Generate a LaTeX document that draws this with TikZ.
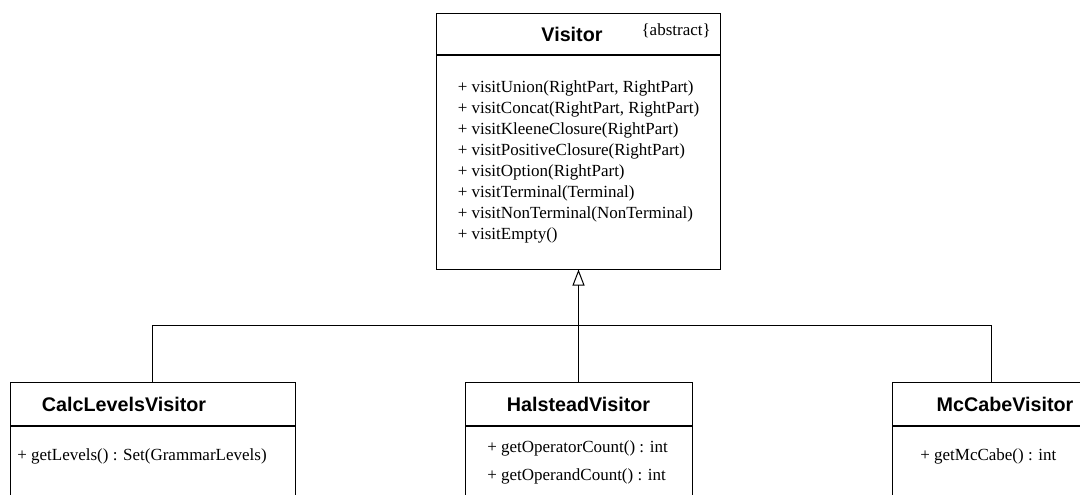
\documentclass[tikz,border=0pt]{standalone}
\usepackage{fontspec}
\setmainfont{Liberation Serif}
\setsansfont{Liberation Sans}
\usetikzlibrary{arrows.meta}

\begin{document}
\begin{tikzpicture}[x=0.75pt,y=-0.75pt,
  box/.style={draw=black,line width=0.75pt,inner sep=0pt},
  classname/.style={font=\sffamily\bfseries\fontsize{14.8pt}{17pt}\selectfont,inner sep=0pt},
  member/.style={font=\fontsize{12.75pt}{15.75pt}\selectfont,inner sep=0pt,anchor=west},
  extends/.style={-{Triangle[open,length=12pt,width=9pt]},line width=0.75pt}]
  \useasboundingbox (0,0) rectangle (1080,494);
  \clip (0,0) rectangle (1080,494);

  % abstract visitor
  \node[box,minimum width=213pt,minimum height=30.75pt] (visitor) at (578.5,33.5) {};
  \node[box,minimum width=213pt,minimum height=160.5pt,anchor=north,align=left,
        font=\fontsize{12.75pt}{15.75pt}\selectfont] (visitorops) at (visitor.south)
    {+ visitUnion(RightPart, RightPart)\\
     + visitConcat(RightPart, RightPart)\\
     + visitKleeneClosure(RightPart)\\
     + visitPositiveClosure(RightPart)\\
     + visitOption(RightPart)\\
     + visitTerminal(Terminal)\\
     + visitNonTerminal(NonTerminal)\\
     + visitEmpty()};
  \node[classname] (visitorname) at (572,34) {Visitor};
  \node[member,anchor=east] (visitorabs) at (711,31) {\{abstract\}};

  % concrete visitors
  \node[box,minimum width=213.75pt,minimum height=32.25pt] (calc) at (152.5,403.5) {};
  \node[box,minimum width=213.75pt,minimum height=75pt,anchor=north] (calcops) at (calc.south) {};
  \node[classname] (calcname) at (124,404) {CalcLevelsVisitor};
  \node[member] (getlevels) at (17,456) {+ getLevels() : Set(GrammarLevels)};

  \node[box,minimum width=170.25pt,minimum height=32.25pt] (halstead) at (578.5,403.5) {};
  \node[box,minimum width=170.25pt,minimum height=75pt,anchor=north] (halsteadops) at (halstead.south) {};
  \node[classname] (halsteadname) at (578.5,404) {HalsteadVisitor};
  \node[member] (getoperator) at (487,448.5) {+ getOperatorCount() : int};
  \node[member] (getoperand) at (487,476.5) {+ getOperandCount() : int};

  \node[box,minimum width=148.5pt,minimum height=32.25pt] (mccabe) at (991,403.5) {};
  \node[box,minimum width=148.5pt,minimum height=75pt,anchor=north] (mccabeops) at (mccabe.south) {};
  \node[classname] (mccabename) at (1005,404) {McCabeVisitor};
  \node[member] (getmccabe) at (920,456.5) {+ getMcCabe() : int};

  % inheritance
  \coordinate (bar) at (578.5,325);
  \draw[line width=0.75pt] (calc.north) |- (bar) -| (mccabe.north);
  \draw[extends] (halstead.north) -- (visitorops.south);
\end{tikzpicture}
\end{document}
